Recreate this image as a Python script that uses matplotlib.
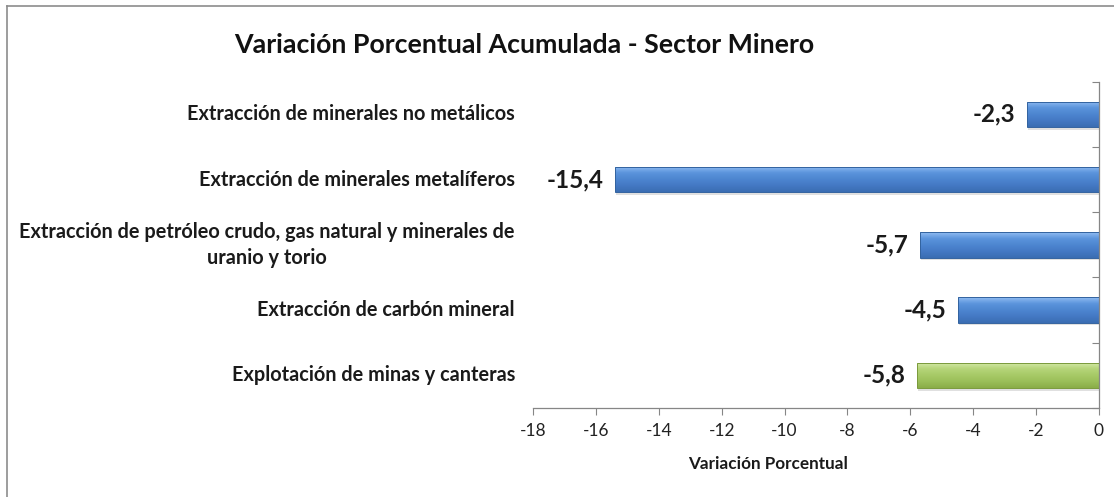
import matplotlib
matplotlib.use("Agg")
import matplotlib.pyplot as plt
import numpy as np
from matplotlib.colors import LinearSegmentedColormap
from matplotlib.lines import Line2D

categories = [
    "Explotación de minas y canteras",
    "Extracción de carbón mineral",
    "Extracción de petróleo crudo, gas natural y minerales de\nuranio y torio",
    "Extracción de minerales metalíferos",
    "Extracción de minerales no metálicos",
]
values = [-5.8, -4.5, -5.7, -15.4, -2.3]
value_labels = ["-5,8", "-4,5", "-5,7", "-15,4", "-2,3"]
xticks = [-18, -16, -14, -12, -10, -8, -6, -4, -2, 0]
title = "Variación Porcentual Acumulada - Sector Minero"
xlabel = "Variación Porcentual"

plt.rcParams['font.family'] = ['Lato', 'DejaVu Sans']

W, H = 1114, 497
fig = plt.figure(figsize=(W / 100, H / 100), dpi=100)
ax = fig.add_axes([533 / W, 1 - 408 / H, (1099 - 533) / W, (408 - 81.7) / H])

blue_cmap = LinearSegmentedColormap.from_list("b", ["#3a6db2", "#4479c4", "#4d86d0", "#5b94dc", "#90bcf2"])
green_cmap = LinearSegmentedColormap.from_list("g", ["#8aad48", "#9bbf5a", "#a7ca67", "#b6d57a", "#d6eaa9"])

ypos = np.arange(len(categories))
bar_h = 0.39
bars = ax.barh(ypos, values, height=bar_h, color="none", edgecolor="none", zorder=2)
grad = np.linspace(0, 1, 64).reshape(-1, 1)
for i, (b, v) in enumerate(zip(bars, values)):
    cmap = green_cmap if i == 0 else blue_cmap
    x0, y0 = b.get_x(), b.get_y()
    w, h = b.get_width(), b.get_height()
    ax.add_patch(plt.Rectangle((x0 + 0.05, y0 - 0.04), w, h, color="#000000", alpha=0.12, lw=0, zorder=1))
    im = ax.imshow(grad, extent=(x0, x0 + w, y0, y0 + h), origin="lower", cmap=cmap,
                   aspect="auto", zorder=2, interpolation="bicubic")
    im.set_clip_path(b)
    edge = "#33639f" if i != 0 else "#7a9a3c"
    ax.add_patch(plt.Rectangle((x0, y0), w, h, fill=False, edgecolor=edge, lw=0.7, zorder=3))
    ax.text(v - 0.35, ypos[i], value_labels[i], ha="right", va="center",
            fontsize=17.5, fontweight="bold", color="#1a1a1a", zorder=4)

ax.set_xlim(-18, 0)
ax.set_ylim(-0.5, len(categories) - 0.5)
ax.set_xticks(xticks)
ax.set_xticklabels([str(t) for t in xticks], fontsize=12.5, color="#222222")
ax.tick_params(axis="x", direction="out", length=5, width=0.8, color="#868686", pad=6)
ax.set_yticks(np.arange(-0.5, len(categories), 1.0))
ax.yaxis.tick_right()
ax.tick_params(axis="y", direction="in", length=5, width=0.8, color="#868686", labelright=False)
for s in ["top", "left"]:
    ax.spines[s].set_visible(False)
for s in ["bottom", "right"]:
    ax.spines[s].set_color("#868686")
    ax.spines[s].set_linewidth(0.9)

ax.set_xlabel(xlabel, fontsize=12.3, fontweight="bold", color="#1a1a1a")
ax.xaxis.set_label_coords((768 - 533) / 566, -0.148)

for i, c in enumerate(categories):
    ax.text(-0.032, ypos[i], c, transform=ax.get_yaxis_transform(), ha="right", va="center",
            multialignment="center", fontsize=14.35, fontweight="bold", color="#1a1a1a", linespacing=1.35)

fig.text(524 / W, 1 - 45 / H, title, ha="center", va="center", fontsize=19.3,
         fontweight="bold", color="#111111")

fig.add_artist(Line2D([7 / W, 7 / W], [0, 1 - 6 / H], transform=fig.transFigure, color="#8c8c8c", lw=1.2))
fig.add_artist(Line2D([7 / W, 1], [1 - 6 / H, 1 - 6 / H], transform=fig.transFigure, color="#8c8c8c", lw=1.2))

fig.savefig("out.png", dpi=100, facecolor="white")
